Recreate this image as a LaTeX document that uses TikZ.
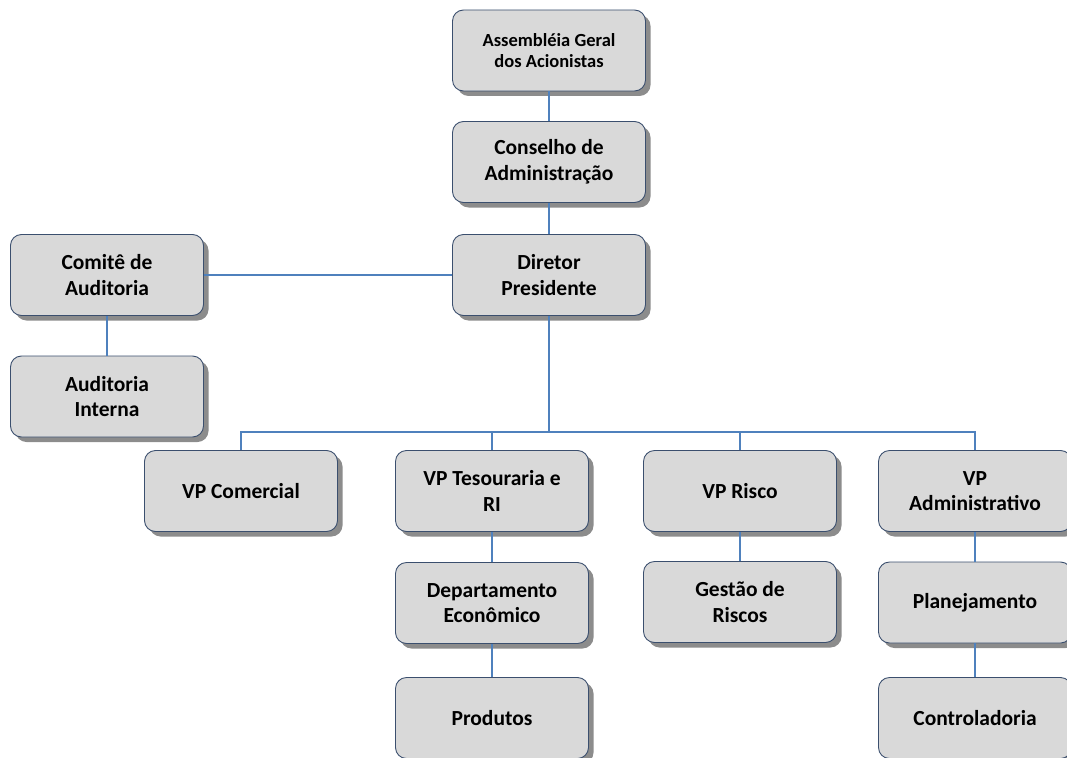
\documentclass[tikz,border=0pt]{standalone}
\usepackage{fontspec}
\setmainfont{Carlito}
\usetikzlibrary{shadows}
\definecolor{boxfill}{HTML}{D9D9D9}
\definecolor{boxline}{HTML}{3B4F6E}
\definecolor{connblue}{HTML}{4F81BD}
\begin{document}
\begin{tikzpicture}[x=1pt,y=-1pt,
  orgbox/.style={draw=boxline, line width=0.9pt, fill=boxfill, rounded corners=11pt,
    minimum width=193pt, minimum height=81pt, inner sep=0pt, align=center,
    font=\fontsize{21.5}{25.5}\selectfont\bfseries,
    drop shadow={shadow xshift=5pt, shadow yshift=-5pt, fill=black!45, opacity=1}},
  smallbox/.style={orgbox, font=\fontsize{18.5}{21}\selectfont\bfseries},
  conn/.style={draw=connblue, line width=1.4pt}]
\useasboundingbox (0,0) rectangle (1067,757);
\node[smallbox] (ag) at (549,50.5) {Assembléia Geral\\dos Acionistas};
\node[orgbox] (cons) at (549,162) {Conselho de\\Administração};
\node[orgbox] (dir) at (549,275) {Diretor\\Presidente};
\node[orgbox] (com) at (107,275) {Comitê de\\Auditoria};
\node[orgbox] (aud) at (107,396.5) {Auditoria\\Interna};
\node[orgbox] (vpc) at (241,491) {VP Comercial};
\node[orgbox] (vpt) at (492,491) {VP Tesouraria e\\RI};
\node[orgbox] (dep) at (492,603) {Departamento\\Econômico};
\node[orgbox] (prod) at (492,718) {Produtos};
\node[orgbox] (vpr) at (740,491) {VP Risco};
\node[orgbox] (ges) at (740,602) {Gestão de\\Riscos};
\node[orgbox] (vpa) at (975,491) {VP\\Administrativo};
\node[orgbox] (plan) at (975,602.5) {Planejamento};
\node[orgbox] (ctrl) at (975,718) {Controladoria};
\coordinate (bus) at (549,432);
\draw[conn] (ag.south) -- (cons.north);
\draw[conn] (cons.south) -- (dir.north);
\draw[conn] (com.east) -- (dir.west);
\draw[conn] (com.south) -- (aud.north);
\draw[conn] (dir.south) -- (bus);
\draw[conn] (vpc.north) |- (bus) -| (vpa.north);
\draw[conn] (vpt.north) -- (vpt.north |- bus);
\draw[conn] (vpr.north) -- (vpr.north |- bus);
\draw[conn] (vpt.south) -- (dep.north);
\draw[conn] (dep.south) -- (prod.north);
\draw[conn] (vpr.south) -- (ges.north);
\draw[conn] (vpa.south) -- (plan.north);
\draw[conn] (plan.south) -- (ctrl.north);
\end{tikzpicture}
\end{document}
